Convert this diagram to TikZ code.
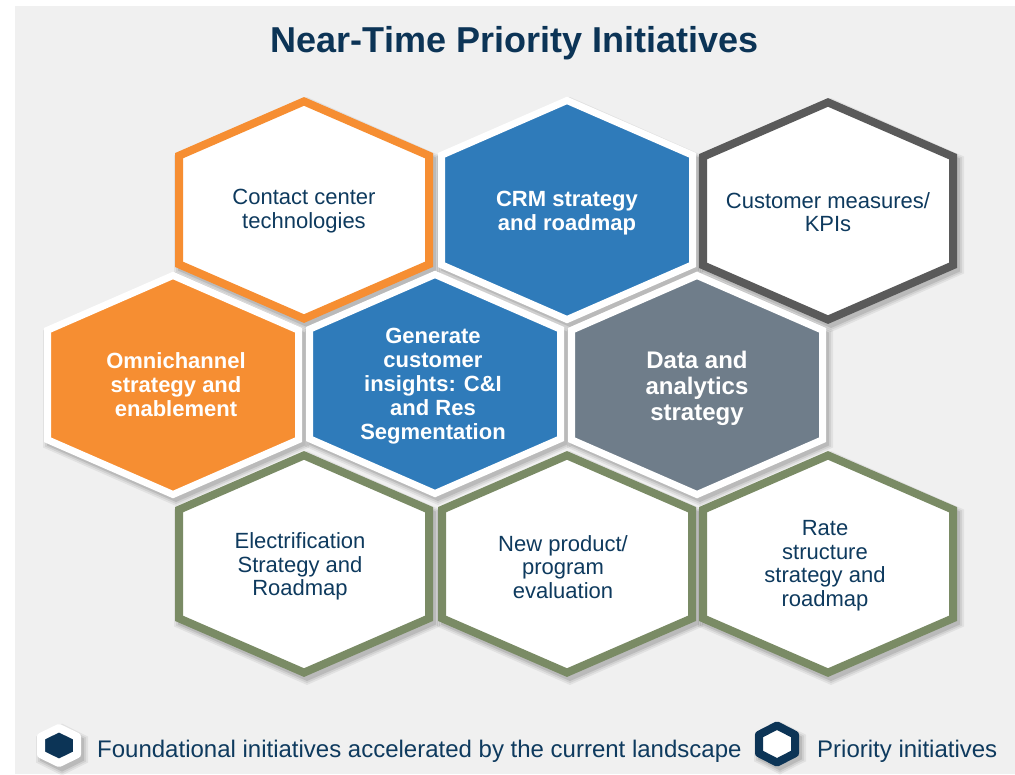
\documentclass[tikz,border=0pt]{standalone}
\usepackage{fontspec}
\setmainfont{Liberation Sans}
\definecolor{bgc}{HTML}{F0F0F0}
\definecolor{navy}{HTML}{0C3456}
\definecolor{txtc}{HTML}{0E3A5E}
\definecolor{orangec}{HTML}{F68E32}
\definecolor{bluec}{HTML}{2F7BBA}
\definecolor{dgray}{HTML}{5A5A5A}
\definecolor{slate}{HTML}{6F7D8A}
\definecolor{greenc}{HTML}{7A8B65}
\newcommand\hexpath[2]{(0,-#2) -- (#1,-#2/2) -- (#1,#2/2) -- (0,#2) -- (-#1,#2/2) -- (-#1,-#2/2) -- cycle}
\newcommand\hexshadow[3]{%
  \foreach \e/\o in {0/0.10,2/0.08,4/0.06} {
    \fill[black,opacity=\o,shift={(#1)},shift={(3,4)}]
      (0,{-#3-\e}) -- ({#2+\e},{-(#3+\e)/2}) -- ({#2+\e},{(#3+\e)/2}) -- (0,{#3+\e})
      -- ({-#2-\e},{(#3+\e)/2}) -- ({-#2-\e},{-(#3+\e)/2}) -- cycle;
  }}
\newcommand\priohex[2]{% center, colour
  \hexshadow{#1}{129}{113}
  \draw[priostyle,draw=#2,shift={(#1)}] \hexpath{125}{108.6};}
\newcommand\foundhex[2]{% center, colour
  \hexshadow{#1}{129}{113}
  \draw[foundstyle,fill=#2,shift={(#1)}] \hexpath{125.5}{109.5};}
\tikzset{
  priostyle/.style={fill=white,line width=8pt,line join=miter},
  foundstyle/.style={draw=white,line width=7pt,line join=miter},
  darktxt/.style={align=center,text=txtc,font=\fontsize{22}{23.5}\selectfont,inner sep=0pt},
  whitetxt/.style={align=center,text=white,font=\fontsize{22}{24}\selectfont\bfseries,inner sep=0pt},
  legendtxt/.style={anchor=base west,text=txtc,font=\fontsize{24}{26}\selectfont,inner sep=0pt},
}
\begin{document}
\begin{tikzpicture}[x=1pt,y=-1pt]
\useasboundingbox (0,0) rectangle (1015,774);
\fill[white] (0,0) rectangle (1015,774);
\fill[bgc] (15,6) rectangle (1015,774);

\node[anchor=base,text=navy,font=\fontsize{36}{40}\selectfont\bfseries,inner sep=0pt] (title) at (514.5,52) {Near-Time Priority Initiatives};

\coordinate (c1) at (304,210);
\coordinate (c2) at (567,210);
\coordinate (c3) at (828,211);
\coordinate (c4) at (173,385);
\coordinate (c5) at (435,384);
\coordinate (c6) at (697,385);
\coordinate (c7) at (304,564);
\coordinate (c8) at (567,564);
\coordinate (c9) at (828,564);

% top row
\priohex{c1}{orangec}
\foundhex{c2}{bluec}
\priohex{c3}{dgray}
% bottom row
\priohex{c7}{greenc}
\priohex{c8}{greenc}
\priohex{c9}{greenc}
% middle row
\foundhex{c4}{orangec}
\foundhex{c5}{bluec}
\foundhex{c6}{slate}

\node[darktxt] (t1) at (304,211) {Contact center\\technologies};
\node[whitetxt] (t2) at (567,213) {CRM strategy\\and roadmap};
\node[darktxt] (t3) at (828,212) {Customer measures/\\KPIs};
\node[whitetxt] (t4) at (176,385) {Omnichannel\\strategy and\\enablement};
\node[whitetxt] (t5) at (433,386.5) {Generate\\customer\\insights: C\&I\\and Res\\Segmentation};
\node[whitetxt,font=\fontsize{24}{26}\selectfont\bfseries] (t6) at (697,388.5) {Data and\\analytics\\strategy};
\node[darktxt] (t7) at (300,566.5) {Electrification\\Strategy and\\Roadmap};
\node[darktxt] (t8) at (563,567) {New product/\\program\\evaluation};
\node[darktxt] (t9) at (825,565.5) {Rate\\structure\\strategy and\\roadmap};

% legend
\coordinate (l1) at (59,745.5);
\coordinate (l2) at (777,744);
\hexshadow{l1}{22}{22}
\draw[line width=8pt,draw=white,fill=navy,line join=round,shift={(l1)}] \hexpath{18}{17.5};
\node[legendtxt] (lt1) at (97,757) {Foundational initiatives accelerated by the current landscape};
\hexshadow{l2}{22}{22.5}
\draw[line width=8pt,draw=navy,fill=white,line join=round,shift={(l2)}] \hexpath{18}{18.5};
\node[legendtxt] (lt2) at (817,757) {Priority initiatives};
\end{tikzpicture}
\end{document}
